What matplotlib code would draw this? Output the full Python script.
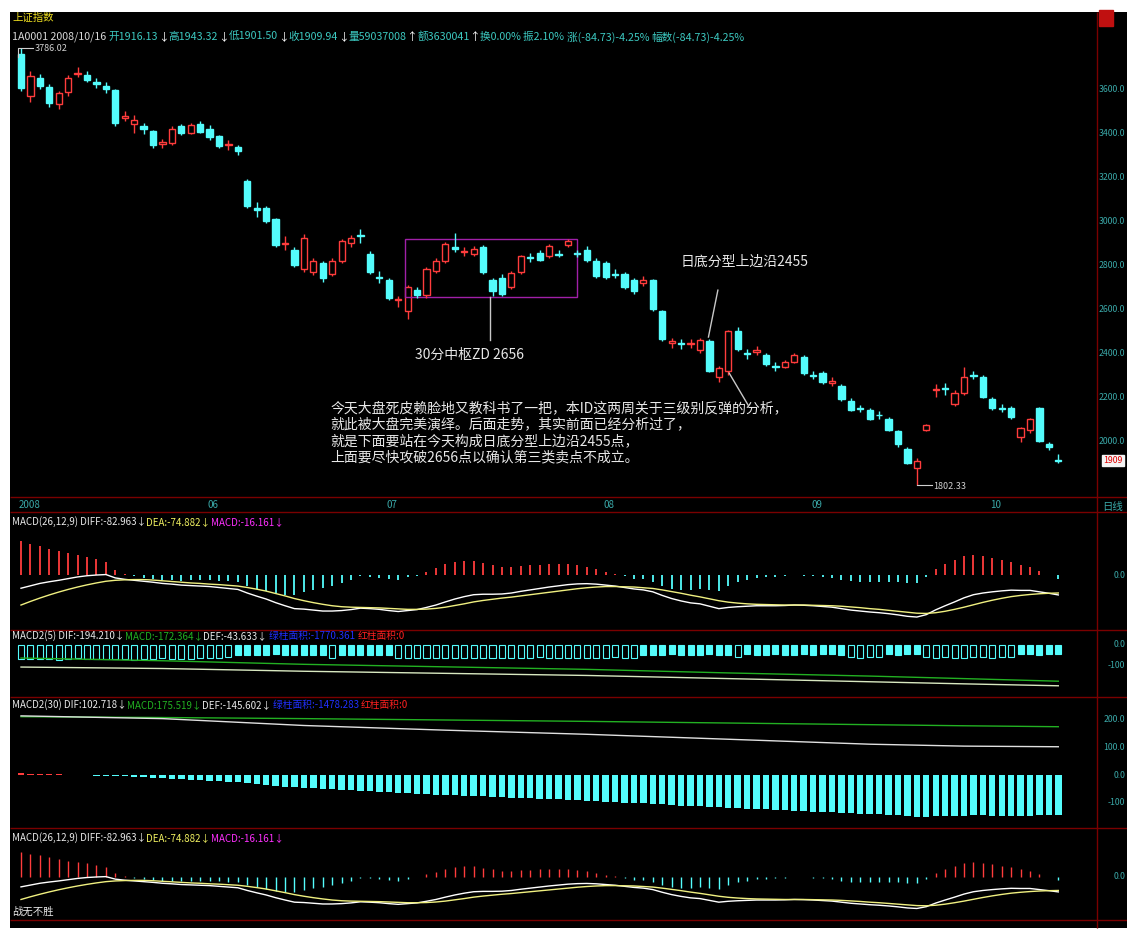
import numpy as np
import matplotlib
matplotlib.use("Agg")
import matplotlib.pyplot as plt
import matplotlib.transforms as mtransforms
from matplotlib.patches import Rectangle

plt.rcParams['font.family'] = ['Noto Sans CJK SC', 'DejaVu Sans']

W, H = 1127, 932

# ---- daily candles, 2008-05 .. 2008-10-16 ----
opens = [3760, 3570, 3650, 3610, 3530, 3585, 3670, 3665, 3630, 3615,
         3595, 3470, 3440, 3430, 3410, 3350, 3355, 3430, 3400, 3440,
         3420, 3385, 3345, 3335, 3180, 3060, 3060, 3010, 2895, 2870,
         2780, 2770, 2810, 2760, 2820, 2900, 2935, 2850, 2745, 2730,
         2640, 2590, 2685, 2665, 2775, 2820, 2880, 2860, 2850, 2880,
         2730, 2740, 2700, 2770, 2835, 2855, 2840, 2850, 2890, 2855,
         2870, 2820, 2810, 2760, 2760, 2730, 2720, 2730, 2590, 2445,
         2445, 2440, 2415, 2455, 2290, 2320, 2500, 2400, 2405, 2390,
         2340, 2335, 2360, 2380, 2300, 2310, 2265, 2250, 2180, 2150,
         2140, 2120, 2100, 2045, 1965, 1880, 2050, 2230, 2240, 2170,
         2220, 2300, 2290, 2190, 2150, 2150, 2020, 2050, 2150, 1985,
         1916.13]
highs = [3786.02, 3680, 3670, 3625, 3590, 3665, 3700, 3680, 3650, 3630,
         3600, 3500, 3480, 3445, 3415, 3375, 3430, 3440, 3445, 3455,
         3435, 3390, 3370, 3345, 3190, 3085, 3070, 3015, 2930, 2880,
         2940, 2830, 2820, 2830, 2920, 2935, 2965, 2865, 2775, 2740,
         2660, 2710, 2700, 2790, 2830, 2905, 2945, 2880, 2885, 2890,
         2740, 2760, 2775, 2845, 2855, 2870, 2895, 2870, 2920, 2870,
         2885, 2830, 2820, 2780, 2770, 2740, 2750, 2735, 2595, 2470,
         2465, 2465, 2470, 2465, 2340, 2505, 2520, 2420, 2430, 2400,
         2360, 2370, 2400, 2390, 2320, 2320, 2290, 2260, 2195, 2165,
         2150, 2135, 2110, 2050, 1975, 1925, 2080, 2260, 2265, 2230,
         2335, 2320, 2300, 2200, 2170, 2160, 2065, 2105, 2155, 1995,
         1943.32]
lows = [3590, 3540, 3600, 3520, 3510, 3570, 3655, 3630, 3605, 3580,
        3430, 3455, 3400, 3395, 3330, 3330, 3345, 3390, 3395, 3400,
        3370, 3330, 3325, 3300, 3060, 3020, 2990, 2880, 2870, 2790,
        2770, 2755, 2725, 2750, 2810, 2880, 2900, 2760, 2720, 2640,
        2610, 2555, 2650, 2650, 2765, 2810, 2860, 2840, 2840, 2760,
        2660, 2660, 2690, 2760, 2815, 2820, 2830, 2835, 2880, 2835,
        2815, 2740, 2735, 2740, 2690, 2670, 2705, 2590, 2455, 2425,
        2420, 2425, 2400, 2315, 2270, 2300, 2410, 2375, 2390, 2340,
        2320, 2330, 2355, 2300, 2280, 2260, 2250, 2180, 2135, 2130,
        2095, 2100, 2045, 1975, 1895, 1802.33, 2045, 2200, 2210, 2160,
        2210, 2280, 2195, 2140, 2130, 2100, 1995, 2035, 1995, 1960,
        1901.50]
closes = [3605, 3660, 3615, 3535, 3580, 3650, 3675, 3640, 3625, 3600,
          3445, 3478, 3460, 3420, 3345, 3360, 3420, 3400, 3435, 3405,
          3380, 3340, 3350, 3320, 3070, 3050, 3000, 2890, 2900, 2800,
          2925, 2820, 2740, 2820, 2910, 2925, 2930, 2770, 2740, 2650,
          2645, 2700, 2665, 2780, 2820, 2895, 2875, 2865, 2875, 2770,
          2680, 2670, 2765, 2840, 2830, 2825, 2885, 2845, 2910, 2850,
          2825, 2750, 2745, 2755, 2700, 2680, 2730, 2600, 2465, 2455,
          2440, 2445, 2460, 2320, 2330, 2500, 2420, 2395, 2412, 2350,
          2338, 2360, 2390, 2310, 2298, 2270, 2275, 2190, 2140, 2148,
          2100, 2118, 2050, 1985, 1900, 1910, 2075, 2236, 2235, 2220,
          2290, 2295, 2200, 2150, 2148, 2110, 2060, 2100, 2000, 1975,
          1909.94]

month_labels = ['2008', '06', '07', '08', '09', '10']
month_start = [0, 20, 39, 62, 84, 103]
price_ticks = [3600, 3400, 3200, 3000, 2800, 2600, 2400, 2200, 2000]

# MACD(26,12,9)
dif = [-55, -45, -35, -28, -22, -15, -8, -3, 0, 2,
       -12, -18, -22, -26, -30, -35, -38, -42, -44, -46,
       -48, -52, -56, -60, -75, -88, -100, -115, -128, -140,
       -142, -146, -150, -150, -148, -144, -138, -140, -143, -148,
       -152, -148, -144, -135, -125, -112, -100, -90, -82, -80,
       -80, -79, -75, -68, -62, -56, -50, -45, -40, -37,
       -36, -38, -42, -46, -52, -58, -62, -70, -85, -98,
       -108, -116, -120, -130, -140, -135, -132, -130, -128, -128,
       -128, -127, -125, -126, -128, -131, -134, -140, -146, -150,
       -154, -157, -161, -166, -172, -175, -165, -145, -128, -112,
       -95, -82, -75, -70, -66, -63, -64, -64, -70, -76,
       -82.963]
dea = [-125, -110, -96, -83, -71, -60, -50, -41, -33, -26,
       -22, -20, -19, -19, -21, -24, -27, -30, -33, -35,
       -38, -40, -43, -46, -52, -59, -67, -77, -87, -98,
       -107, -115, -122, -128, -132, -134, -135, -136, -137, -139,
       -141, -143, -143, -142, -139, -134, -127, -120, -112, -106,
       -101, -96, -92, -87, -82, -77, -72, -67, -62, -57,
       -53, -50, -48, -48, -49, -50, -53, -56, -62, -69,
       -76, -84, -91, -99, -107, -113, -117, -120, -122, -123,
       -124, -125, -125, -125, -126, -127, -128, -130, -133, -136,
       -140, -143, -147, -151, -155, -159, -160, -157, -151, -143,
       -134, -124, -114, -105, -97, -90, -85, -81, -78, -76,
       -74.882]

# MACD2(5)
def5 = [-66, -68, -65, -67, -70, -66, -64, -67, -69, -66,
        -65, -68, -70, -67, -66, -64, -65, -67, -66, -63,
        -62, -60, -58, -48, -46, -50, -47, -45, -49, -48,
        -46, -47, -50, -62, -48, -46, -49, -47, -50, -48,
        -60, -62, -64, -63, -61, -60, -62, -64, -63, -61,
        -60, -62, -63, -61, -60, -59, -62, -63, -61, -60,
        -62, -61, -60, -59, -61, -60, -47, -48, -46, -45,
        -47, -48, -46, -45, -47, -46, -58, -45, -47, -46,
        -44, -46, -47, -45, -46, -44, -45, -46, -58, -60,
        -59, -58, -45, -46, -44, -43, -58, -60, -59, -61,
        -60, -58, -59, -60, -58, -57, -45, -44, -46, -44,
        -43.633]
solid5 = "0" * 23 + "1" * 10 + "0" + "1" * 6 + "0" * 26 + "1" * 10 + "0" + "1" * 11 + "0" * 4 + "1" * 4 + "0" * 10 + "1" * 5
line5_idx = [0, 15, 30, 45, 60, 75, 90, 100, 110]
dif5 = [-105, -112, -125, -135, -145, -160, -175, -185, -194.21]
macd5 = [-62, -75, -92, -104, -116, -133, -148, -160, -172.364]

# MACD2(30)
def30 = [6, 5, 4, 3, 2, 1, 0, -1, -2, -3,
         -4, -5, -7, -8, -10, -12, -13, -15, -17, -19,
         -21, -23, -25, -27, -30, -33, -36, -39, -42, -44,
         -46, -48, -50, -52, -54, -56, -58, -59, -61, -63,
         -65, -66, -68, -69, -71, -72, -73, -75, -76, -78,
         -79, -81, -82, -84, -85, -87, -88, -89, -91, -92,
         -94, -95, -97, -98, -100, -101, -103, -105, -107, -109,
         -111, -113, -114, -116, -118, -119, -121, -122, -124, -125,
         -127, -128, -130, -131, -133, -134, -136, -137, -139, -140,
         -142, -143, -145, -147, -149, -151, -152, -150, -149, -148,
         -148, -147, -147, -148, -148, -149, -149, -148, -147, -147,
         -145.602]
line30_idx = [0, 15, 30, 45, 60, 75, 90, 100, 110]
macd30 = [212, 209, 205, 200, 195, 189, 183, 179, 175.519]
dif30 = [215, 205, 180, 163, 148, 130, 112, 105, 102.718]

# annotation levels
ZD, ZG = 2656, 2918
box_start, box_end = 40.7, 59.0

RED = '#ff3c3c'
CYAN = '#54fcfc'
TEAL = '#3aa8a8'
DARKRED = '#7a0000'
GREEN = '#22b022'

fig = plt.figure(figsize=(W / 100, H / 100), dpi=100, facecolor='white')

# black screen area
bg = fig.add_axes([10 / W, 1 - 928 / H, 1 - 10 / W, 916 / H])
bg.set_facecolor('black')
bg.set_xticks([])
bg.set_yticks([])
for sp in bg.spines.values():
    sp.set_visible(False)

X_LO = (10 - 21) / 9.43
X_HI = (1097 - 21) / 9.43


def panel(y0, y1, ylo, yhi):
    a = fig.add_axes([10 / W, 1 - y1 / H, 1087 / W, (y1 - y0) / H])
    a.set_xlim(X_LO, X_HI)
    a.set_ylim(ylo, yhi)
    a.axis('off')
    return a


def right_label(a, v, s):
    a.text((1125 - 10) / 1087, v, s, transform=a.get_yaxis_transform(), color=TEAL,
           fontsize=6.3, ha='right', va='center', clip_on=False)


idx = np.arange(len(closes))
o, h, l, c = map(np.array, (opens, highs, lows, closes))

# ---- main chart ----
ax = panel(12, 497, 1746, 3950)
bw = 0.66
for i in idx:
    if c[i] >= o[i]:
        ax.vlines(i, c[i], h[i], color=RED, lw=1)
        ax.vlines(i, l[i], o[i], color=RED, lw=1)
        ax.add_patch(Rectangle((i - bw / 2, o[i]), bw, c[i] - o[i],
                               facecolor='black', edgecolor=RED, lw=1))
    else:
        ax.vlines(i, l[i], h[i], color=CYAN, lw=1)
        ax.add_patch(Rectangle((i - bw / 2, c[i]), bw, o[i] - c[i],
                               facecolor=CYAN, edgecolor=CYAN, lw=1))

for p in price_ticks:
    right_label(ax, p, f'{p}.0')
ax.text(1.006, c[-1], f'{int(c[-1])}', transform=ax.get_yaxis_transform(),
        color='#e00000', fontsize=6.3, ha='left', va='center', clip_on=False,
        bbox=dict(boxstyle='square,pad=0.12', facecolor='#f4f4f4', edgecolor='#f4f4f4'))

hi_i = int(np.argmax(h))
lo_i = int(np.argmin(l))
ax.plot([hi_i - 0.35, hi_i - 0.35, hi_i + 1.3], [h[hi_i] - 40, h[hi_i], h[hi_i]],
        color='#d0d0d0', lw=0.8)
ax.text(hi_i + 1.4, h[hi_i], f'{h[hi_i]:.2f}', color='#d0d0d0', fontsize=6.5, va='center')
ax.plot([lo_i, lo_i + 1.6], [l[lo_i], l[lo_i]], color='#d0d0d0', lw=0.8)
ax.text(lo_i + 1.7, l[lo_i] - 10, f'{l[lo_i]:.2f}', color='#d0d0d0', fontsize=6.5, va='center')

ax.add_patch(Rectangle((box_start, ZD), box_end - box_start, ZG - ZD,
                       fill=False, edgecolor='#a020a8', lw=1))
ax.plot([49.7, 49.7], [ZD, 2459], color='#c8c8c8', lw=1)
ax.text(41.8, 2391, '30分中枢ZD 2656', color='#e8e8e8', fontsize=10, va='center')
ax.text(69.9, 2814, '日底分型上边沿2455', color='#e8e8e8', fontsize=10, va='center')
ax.plot([73.9, 72.9], [2686, 2473], color='#c8c8c8', lw=1)
ax.plot([75.1, 77.1], [2309, 2164], color='#c8c8c8', lw=1)
ax.text(32.8, 2180,
        '今天大盘死皮赖脸地又教科书了一把，本ID这两周关于三级别反弹的分析，\n'
        '就此被大盘完美演绎。后面走势，其实前面已经分析过了，\n'
        '就是下面要站在今天构成日底分型上边沿2455点，\n'
        '上面要尽快攻破2656点以确认第三类卖点不成立。',
        color='#e8e8e8', fontsize=10, va='top', ha='left', linespacing=1.2)

# ---- MACD(26,12,9) ----
bar = 2 * (np.array(dif) - np.array(dea))
bar_col = np.where(bar > 0, RED, CYAN)

p1 = panel(512, 630, -229, 262.5)
p1.vlines(idx, 0, bar, colors=bar_col, lw=1.3)
p1.plot(idx, dif, color='white', lw=1)
p1.plot(idx, dea, color='#f0f080', lw=1)
right_label(p1, 0, '0.0')

# ---- MACD2(5) ----
p2 = panel(630, 697, -247.6, 71.4)
p2.bar(idx, def5, width=0.64,
       color=[CYAN if s == '1' else 'black' for s in solid5], edgecolor=CYAN, lw=0.8)
p2.plot(line5_idx, macd5, color=GREEN, lw=1)
p2.plot(line5_idx, dif5, color='#d8e8c0', lw=1)
right_label(p2, 0, '0.0')
right_label(p2, -100, '-100')

# ---- MACD2(30) ----
p3 = panel(697, 828, -192.7, 283.6)
p3.bar(idx, def30, width=0.68, color=np.where(np.array(def30) > 0, RED, CYAN), lw=0)
p3.plot(line30_idx, macd30, color=GREEN, lw=1)
p3.plot(line30_idx, dif30, color='#e0e0e0', lw=1)
for v, s in zip([200, 100, 0, -100], ['200.0', '100.0', '0.0', '-100']):
    right_label(p3, v, s)

# ---- MACD(26,12,9) again ----
p4 = panel(828, 920, -239, 272)
p4.vlines(idx, 0, bar, colors=bar_col, lw=1)
p4.plot(idx, dif, color='white', lw=1)
p4.plot(idx, dea, color='#f0f080', lw=1)
right_label(p4, 0, '0.0')

# ---- overlay in pixel coordinates ----
ov = fig.add_axes([0, 0, 1, 1])
ov.set_xlim(0, W)
ov.set_ylim(H, 0)
ov.axis('off')

ov.hlines([497, 512, 630, 697, 828, 920], 10, W, color=DARKRED, lw=1)
ov.vlines(1097, 12, 928, color=DARKRED, lw=1)
ov.add_patch(Rectangle((1099, 10), 14, 16, color='#c01010'))

date_tr = mtransforms.blended_transform_factory(ax.transData, ov.transData)
for lab, s in zip(month_labels, month_start):
    ov.text(s - 0.2, 505, lab, transform=date_tr, color=TEAL, fontsize=7, va='center')
ov.text(1102, 507, '日线', color=TEAL, fontsize=7.5, va='center')


def seg_text(x, y, parts, size=7):
    t = ov.text(x, y, parts[0][0], color=parts[0][1], fontsize=size, va='center', ha='left')
    for s, col in parts[1:]:
        t = ov.annotate(s, xy=(1, 0.5), xycoords=t, va='center', ha='left',
                        color=col, fontsize=size)
    return t


HC = '#3cc8c0'
ov.text(12, 18, '上证指数', color='#f0e020', fontsize=7.5, va='center')
seg_text(12, 37, [('1A0001 2008/10/16 ', '#d8d8d8'),
                  ('开1916.13', HC), ('↓', 'white'), ('高1943.32', HC), ('↓', 'white'),
                  ('低1901.50', HC), ('↓', 'white'), ('收1909.94', HC), ('↓', 'white'),
                  ('量59037008', HC), ('↑', 'white'), ('额3630041', HC), ('↑', 'white'),
                  ('换0.00% ', HC), ('振2.10% ', HC), ('涨(-84.73)-4.25% ', HC),
                  ('幅数(-84.73)-4.25%', HC)], size=7.7)

macd_head = [('MACD(26,12,9) DIFF:-82.963↓', '#e8e8e8'),
             ('DEA:-74.882↓', '#f0f060'), ('MACD:-16.161↓', '#ff30ff')]
seg_text(12, 522, macd_head)
seg_text(12, 838, macd_head)
seg_text(12, 636, [('MACD2(5) DIF:-194.210↓', '#e8e8e8'), ('MACD:-172.364↓', GREEN),
                   ('DEF:-43.633↓ ', '#e8e8e8'), ('绿柱面积:-1770.361 ', '#2030ff'),
                   ('红柱面积:0', '#ff2020')])
seg_text(12, 705, [('MACD2(30) DIF:102.718↓', '#e8e8e8'), ('MACD:175.519↓', GREEN),
                   ('DEF:-145.602↓ ', '#e8e8e8'), ('绿柱面积:-1478.283 ', '#2030ff'),
                   ('红柱面积:0', '#ff2020')])
ov.text(12, 912, '战无不胜', color='#e8e8e8', fontsize=7.5, va='center')

fig.savefig('out.png', dpi=100, facecolor='white')
